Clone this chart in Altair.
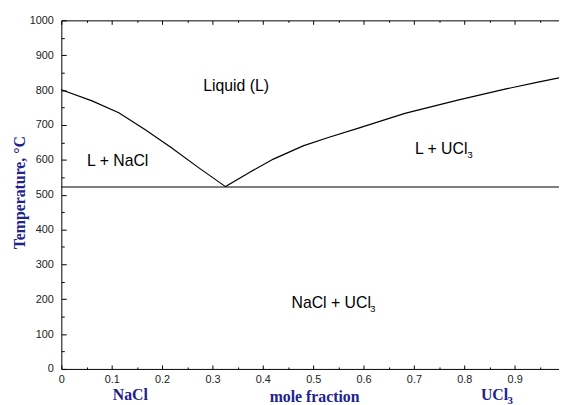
import altair as alt
import pandas as pd

# ---- data ----
XMAX = 0.988  # right edge of the visible plot (mole fraction)

liq_x = [0.0, 0.061, 0.114, 0.166, 0.218, 0.271, 0.326,
         0.375, 0.421, 0.480, 0.530, 0.590, 0.682, 0.787, 0.885, 0.944, 0.988]
liq_t = [801, 769, 735, 687, 635, 579, 523,
         565, 602, 640, 664, 691, 733, 771, 804, 822, 835]

eutectic_t = [522]

x_major = [0, 0.1, 0.2, 0.3, 0.4, 0.5, 0.6, 0.7, 0.8, 0.9]
x_minor = [0.05, 0.15, 0.25, 0.35, 0.45, 0.55, 0.65, 0.75, 0.85, 0.95]
y_major = [0, 100, 200, 300, 400, 500, 600, 700, 800, 900, 1000]
y_minor = [50, 150, 250, 350, 450, 550, 650, 750, 850, 950]

# region labels (main text)
lab_text = ["Liquid (L)", "L + NaCl", "L + UCl", "NaCl + UCl"]
lab_x = [0.347, 0.112, 0.702, 0.457]
lab_t = [796, 581, 618, 175]
lab_align = ["center", "center", "left", "left"]

# subscripts
sub_text = ["3", "3"]
sub_x = [0.806, 0.613]
sub_t = [606, 163]

# component labels under the axis
comp_text = ["NaCl", "UCl"]
comp_x = [0.137, 0.833]
comp_t = [-88, -88]
comp_align = ["center", "left"]
comp_sub_text = ["3"]
comp_sub_x = [0.886]
comp_sub_t = [-100]

NAVY = "#22228c"
W, H = 504, 353
SANS = "Liberation Sans, Arial, sans-serif"
SERIF = "Liberation Serif, Times New Roman, serif"

liq = pd.DataFrame({"x": liq_x, "t": liq_t, "i": range(len(liq_x))})
eut = pd.DataFrame({"t": eutectic_t})


def xs(axis, field="x"):
    return alt.X(f"{field}:Q", scale=alt.Scale(domain=[0, XMAX], nice=False, zero=False), axis=axis)


def ys(axis, field="t"):
    return alt.Y(f"{field}:Q", scale=alt.Scale(domain=[0, 1000], nice=False, zero=False), axis=axis)


tick_common = dict(grid=False, labels=False, title=None, tickColor="black", tickWidth=1)

# main line with labelled axes
line = alt.Chart(liq).mark_line(color="black", strokeWidth=1.2).encode(
    x=xs(alt.Axis(orient="bottom", values=x_major, ticks=False, grid=False,
                  domain=True, domainColor="black", domainWidth=1,
                  labelFont=SANS, labelFontSize=11, labelColor="#222", labelPadding=5,
                  labelFlush=False, labelOverlap=False, format="~g",
                  title="mole fraction", titleFont=SERIF, titleFontWeight="bold",
                  titleFontSize=16, titleColor=NAVY, titleX=256, titleY=33,
                  titleBaseline="alphabetic")),
    y=ys(alt.Axis(orient="left", values=y_major, ticks=False, grid=False,
                  domain=True, domainColor="black", domainWidth=1,
                  labelFont=SANS, labelFontSize=11, labelColor="#222", labelPadding=8,
                  labelFlush=False, labelOverlap=False, format="d",
                  title="Temperature, °C", titleFont=SERIF, titleFontWeight="bold",
                  titleFontSize=16, titleColor=NAVY, titleX=-37, titleY=174,
                  titleBaseline="alphabetic")),
    order="i:Q",
)

rule = alt.Chart(eut).mark_rule(color="black", strokeWidth=1.2).encode(
    y=ys(None)
)


def ghost(xaxis, yaxis):
    enc = dict(x=xs(xaxis))
    enc["y"] = ys(yaxis)
    return alt.Chart(liq).mark_point(opacity=0).encode(**enc)


# top border with inward ticks + left inward ticks
gA = ghost(alt.Axis(orient="bottom", offset=-H, values=x_major, tickSize=4, domain=True,
                    domainColor="black", domainWidth=1, **tick_common),
           alt.Axis(orient="right", offset=-W, values=y_major, tickSize=5, domain=False,
                    **tick_common))
gB = ghost(alt.Axis(orient="bottom", offset=-H, values=x_minor, tickSize=2, domain=False,
                    **tick_common),
           alt.Axis(orient="right", offset=-W, values=y_minor, tickSize=3, domain=False,
                    **tick_common))
# bottom inward ticks
gC = ghost(alt.Axis(orient="top", offset=-H, values=x_major, tickSize=4, domain=False,
                    **tick_common), None)
gD = ghost(alt.Axis(orient="top", offset=-H, values=x_minor, tickSize=2, domain=False,
                    **tick_common), None)

labels_df = pd.DataFrame({"x": lab_x, "t": lab_t, "s": lab_text, "a": lab_align})
lab_center = alt.Chart(labels_df[labels_df.a == "center"]).mark_text(
    font=SANS, fontSize=16, color="black", align="center", baseline="alphabetic"
).encode(x=xs(None), y=ys(None), text="s:N")
lab_left = alt.Chart(labels_df[labels_df.a == "left"]).mark_text(
    font=SANS, fontSize=16, color="black", align="left", baseline="alphabetic"
).encode(x=xs(None), y=ys(None), text="s:N")
subs = alt.Chart(pd.DataFrame({"x": sub_x, "t": sub_t, "s": sub_text})).mark_text(
    font=SANS, fontSize=10, color="black", align="left", baseline="alphabetic"
).encode(x=xs(None), y=ys(None), text="s:N")

comp_df = pd.DataFrame({"x": comp_x, "t": comp_t, "s": comp_text, "a": comp_align})
comp_c = alt.Chart(comp_df[comp_df.a == "center"]).mark_text(
    font=SERIF, fontSize=16, fontWeight="bold", color=NAVY, align="center", baseline="alphabetic"
).encode(x=xs(None), y=ys(None), text="s:N")
comp_l = alt.Chart(comp_df[comp_df.a == "left"]).mark_text(
    font=SERIF, fontSize=16, fontWeight="bold", color=NAVY, align="left", baseline="alphabetic"
).encode(x=xs(None), y=ys(None), text="s:N")
comp_s = alt.Chart(pd.DataFrame({"x": comp_sub_x, "t": comp_sub_t, "s": comp_sub_text})).mark_text(
    font=SERIF, fontSize=11, fontWeight="bold", color=NAVY, align="left", baseline="alphabetic"
).encode(x=xs(None), y=ys(None), text="s:N")

chart = alt.layer(
    line, rule, gA, gB, gC, gD, lab_center, lab_left, subs, comp_c, comp_l, comp_s
).resolve_scale(x="independent", y="independent").properties(
    width=W, height=H,
    autosize=alt.AutoSizeParams(type="none"),
    padding={"left": 54, "top": 10, "right": 0, "bottom": 34},
    background="white",
).configure_view(stroke=None)

chart.save("out.html", embed_options={"renderer": "svg", "actions": False})
